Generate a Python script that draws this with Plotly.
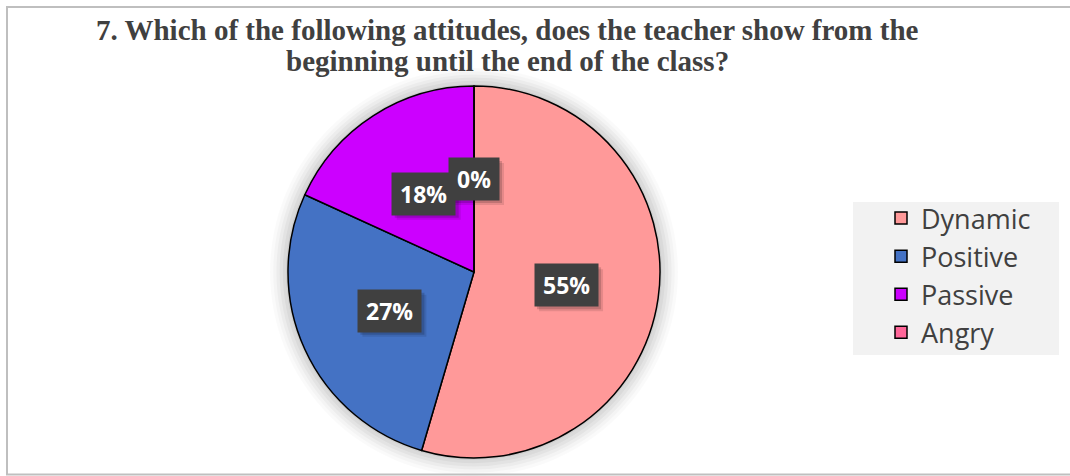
import math
import plotly.graph_objects as go

# ---- data ----
labels = ["Dynamic", "Positive", "Passive", "Angry"]
values = [6, 3, 2, 0]
colors = ["#FF9999", "#4472C4", "#CC00FF", "#FF6699"]
title_lines = ["7. Which of the following attitudes, does the teacher show from the",
               "beginning until the end of the class?"]

W, H = 1070, 476
CX, CY, R = 474, 272, 186  # pie centre/radius in px (top-left origin)

dom_x = [(CX - R) / W, (CX + R) / W]
dom_y = [(H - CY - R) / H, (H - CY + R) / H]

fig = go.Figure()
fig.add_trace(go.Pie(
    labels=labels, values=values, sort=False, direction="clockwise", rotation=0,
    marker=dict(colors=colors, line=dict(color="black", width=1.5)),
    textinfo="none", hoverinfo="label+percent",
    domain=dict(x=dom_x, y=dom_y),
    showlegend=True,
))

# soft glow behind the pie
shapes = []
for i, a in enumerate([0.02, 0.025, 0.03, 0.035, 0.04, 0.05]):
    rr = R + 18 - i * 3.2
    shapes.append(dict(type="circle", xref="paper", yref="paper", layer="below",
                       x0=(CX - rr) / W, x1=(CX + rr) / W,
                       y0=(H - CY - rr) / H, y1=(H - CY + rr) / H,
                       fillcolor=f"rgba(0,0,0,{a})", line=dict(width=0)))
# outer frame
shapes.append(dict(type="rect", xref="paper", yref="paper", layer="below",
                   x0=7 / W, x1=1.02, y0=1.5 / H, y1=(H - 7) / H,
                   line=dict(color="#BFBFBF", width=2), fillcolor="rgba(0,0,0,0)"))
# legend background panel
shapes.append(dict(type="rect", xref="paper", yref="paper", layer="below",
                   x0=853 / W, x1=1059 / W, y0=(H - 355) / H, y1=(H - 202) / H,
                   line=dict(width=0), fillcolor="#F2F2F2"))

annotations = []
# title lines
for i, line in enumerate(title_lines):
    annotations.append(dict(text=f"<b>{line}</b>", xref="paper", yref="paper",
                            x=507 / W, y=(H - (30 + i * 31)) / H,
                            xanchor="center", yanchor="middle", showarrow=False,
                            font=dict(family="Liberation Serif", size=29, color="#404040")))

# percentage labels with dark boxes
total = sum(values)
cum = 0
label_items = []
for v in values:
    mid = (cum + v / 2) / total
    cum += v
    theta = 2 * math.pi * mid
    px = CX + 0.5 * R * math.sin(theta)
    py = CY - 0.5 * R * math.cos(theta)
    label_items.append((px, py, f"{round(100 * v / total)}%"))

for px, py, txt in label_items:
    bw = 14 * len(txt) + 22
    bh = 42
    # soft drop shadow (two layers)
    for off, a in [(5, 0.10), (3, 0.16)]:
        shapes.append(dict(type="rect", xref="paper", yref="paper", layer="above",
                           x0=(px - bw / 2 + off) / W, x1=(px + bw / 2 + off) / W,
                           y0=(H - (py + bh / 2 + off)) / H, y1=(H - (py - bh / 2 + off)) / H,
                           line=dict(width=0), fillcolor=f"rgba(0,0,0,{a})"))
    annotations.append(dict(text=f"<b>{txt}</b>", xref="paper", yref="paper",
                            x=px / W, y=(H - py) / H, xanchor="center", yanchor="middle",
                            showarrow=False, bgcolor="#404040", borderpad=8, height=26,
                            font=dict(family="Open Sans", size=23, color="white")))

fig.update_layout(
    width=W, height=H,
    margin=dict(l=0, r=0, t=0, b=0),
    paper_bgcolor="white", plot_bgcolor="white",
    shapes=shapes, annotations=annotations,
    legend=dict(x=853 / W, y=(H - 194) / H, xanchor="left", yanchor="top",
                bgcolor="rgba(0,0,0,0)", indentation=28,
                font=dict(family="Open Sans", size=27, color="#404040"),
                itemclick=False, itemdoubleclick=False),
)

fig.write_html("out.html", config={"displayModeBar": False})
